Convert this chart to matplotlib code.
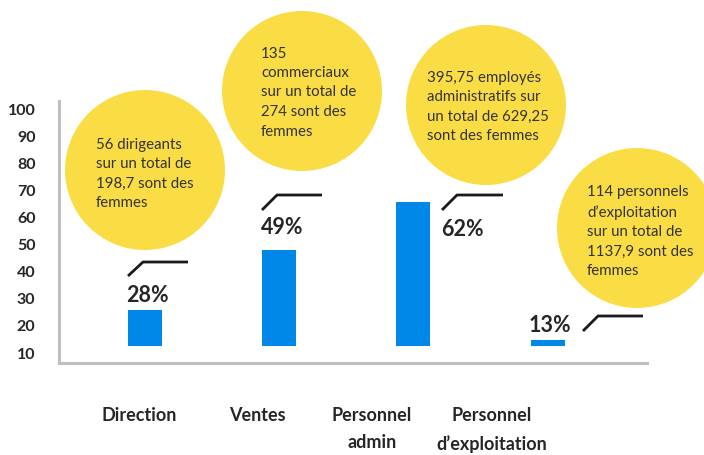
import matplotlib
matplotlib.use("Agg")
import matplotlib.pyplot as plt
from matplotlib.patches import Circle

plt.rcParams['font.family'] = ['Lato', 'DejaVu Sans']

# données
categories = ["Direction", "Ventes", "Personnel\nadmin", "Personnel\nd’exploitation"]
pourcentages = [28, 49, 62, 13]          # étiquettes affichées
hauteurs_barres = [25.9, 48.1, 65.9, 14.8]  # sommet des barres sur l'échelle de l'axe
base_barres = 12.6
yticks = [10, 20, 30, 40, 50, 60, 70, 80, 90, 100]
bulles = [
    "56 dirigeants\nsur un total de\n198,7 sont des\nfemmes",
    "135\ncommerciaux\nsur un total de\n274 sont des\nfemmes",
    "395,75 employés\nadministratifs sur\nun total de 629,25\nsont des femmes",
    "114 personnels\nd’exploitation\nsur un total de\n1137,9 sont des\nfemmes",
]

BLEU = "#0088E8"
JAUNE = "#FADD45"
TEXTE = "#262626"
GRIS = "#BFBFBF"

W, H = 704, 455
fig = plt.figure(figsize=(W / 100, H / 100), dpi=100)

# calque de fond en pixels pour bulles et flèches
bg = fig.add_axes([0, 0, 1, 1], zorder=0)
bg.set_xlim(0, W)
bg.set_ylim(H, 0)
bg.axis("off")

# graphique principal
ax = fig.add_axes([59 / W, 1 - 363 / H, (647 - 59) / W, (363 - 101) / H], zorder=1)
ax.patch.set_alpha(0)
x = list(range(len(categories)))
ax.bar(x, [h - base_barres for h in hauteurs_barres], bottom=base_barres,
       width=0.253, color=BLEU)
ax.set_xlim(-0.64, 3.74)
ax.set_ylim(6.3, 103.3)

ax.set_yticks(yticks)
ax.set_yticklabels([str(t) for t in yticks], fontsize=11.5, fontweight="bold", color=TEXTE)
ax.tick_params(axis="y", length=0, pad=17)

# libellés de catégories décalés par rapport aux barres
ax.set_xticks([-0.04, 0.84, 1.69, 2.58])
ax.set_xticklabels(categories, fontsize=13, fontweight="bold", color=TEXTE)
ax.tick_params(axis="x", length=0, pad=32)
for lab in ax.get_xticklabels():
    lab.set_linespacing(1.7)
    lab.set_verticalalignment("top")

for s in ["top", "right"]:
    ax.spines[s].set_visible(False)
for s in ["left", "bottom"]:
    ax.spines[s].set_color(GRIS)
    ax.spines[s].set_linewidth(2.2)

# bulles jaunes
centres = [(145, 170), (302, 91), (486, 105), (637, 228)]
textes_pos = [(96, 174), (261, 92.5), (427, 107), (587, 231.5)]
for (cx, cy), (tx, ty), txt in zip(centres, textes_pos, bulles):
    bg.add_patch(Circle((cx, cy), 80, color=JAUNE, lw=0))
    bg.text(tx, ty, txt, fontsize=10.8, color="#333333", ha="left", va="center",
            linespacing=1.5)

# étiquettes de pourcentage et traits
etiq_pos = [(147, 296), (282, 228), (462, 229), (550, 325)]
traits = [
    [(128, 276), (143, 262), (188, 262)],
    [(262, 210), (277, 195), (322, 195)],
    [(442, 210), (457, 195), (503, 195)],
    [(583, 331), (598, 316), (643, 316)],
]
for (px, py), p, tr in zip(etiq_pos, pourcentages, traits):
    bg.text(px, py, f"{p}%", fontsize=15.5, fontweight="bold", color=TEXTE,
            ha="center", va="center")
    bg.plot([q[0] for q in tr], [q[1] for q in tr], color="#1a1a1a", lw=2,
            solid_capstyle="butt")

fig.savefig("out.png", dpi=100)
